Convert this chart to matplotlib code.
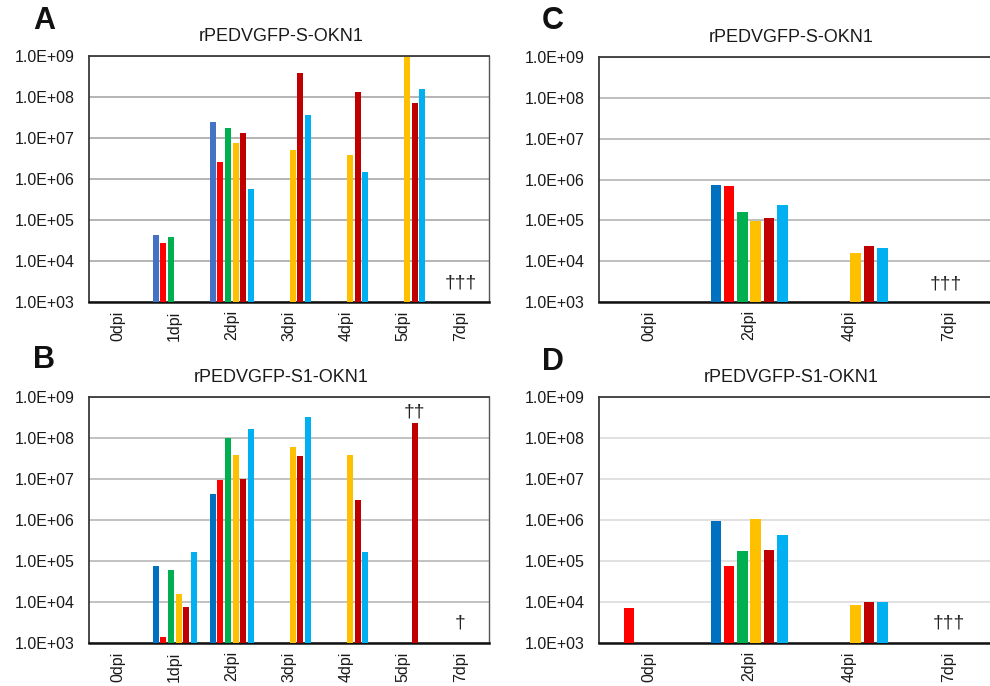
import numpy as np
import matplotlib
matplotlib.use("Agg")
import matplotlib.pyplot as plt
from matplotlib.ticker import FixedLocator, FuncFormatter, NullLocator

plt.rcParams['font.family'] = ['Liberation Sans', 'DejaVu Sans']

nan = np.nan

# categories
days_ab = ['0dpi', '1dpi', '2dpi', '3dpi', '4dpi', '5dpi', '7dpi']
days_cd = ['0dpi', '2dpi', '4dpi', '7dpi']

# six animals per panel, one value per day (nan = no bar)
a_vals = [
    [nan, 4.2e4, 2.5e7, nan, nan, nan, nan],
    [nan, 2.8e4, 2.6e6, nan, nan, nan, nan],
    [nan, 3.9e4, 1.8e7, nan, nan, nan, nan],
    [nan, nan, 7.7e6, 5.1e6, 3.8e6, 9.5e8, nan],
    [nan, nan, 1.3e7, 3.8e8, 1.35e8, 7.3e7, nan],
    [nan, nan, 5.7e5, 3.6e7, 1.45e6, 1.55e8, nan],
]
b_vals = [
    [nan, 7.7e4, 4.3e6, nan, nan, nan, nan],
    [nan, 1.4e3, 9.5e6, nan, nan, nan, nan],
    [nan, 6.2e4, 1.02e8, nan, nan, nan, nan],
    [nan, 1.6e4, 3.9e7, 6.0e7, 3.8e7, nan, nan],
    [nan, 7.4e3, 1.0e7, 3.6e7, 3.1e6, 2.3e8, nan],
    [nan, 1.66e5, 1.7e8, 3.2e8, 1.66e5, nan, nan],
]
c_vals = [
    [nan, 7.5e5, nan, nan],
    [nan, 7.1e5, nan, nan],
    [nan, 1.57e5, nan, nan],
    [nan, 9.5e4, 1.58e4, nan],
    [nan, 1.17e5, 2.3e4, nan],
    [nan, 2.4e5, 2.05e4, nan],
]
d_vals = [
    [nan, 9.4e5, nan, nan],
    [7.0e3, 7.6e4, nan, nan],
    [nan, 1.74e5, nan, nan],
    [nan, 1.08e6, 8.4e3, nan],
    [nan, 1.9e5, 1.02e4, nan],
    [nan, 4.2e5, 1.02e4, nan],
]

titles = ['rPEDVGFP-S-OKN1', 'rPEDVGFP-S1-OKN1', 'rPEDVGFP-S-OKN1', 'rPEDVGFP-S1-OKN1']
letters = ['A', 'B', 'C', 'D']

colors_a = ['#4472C4', '#FF0000', '#00B050', '#FFC000', '#C00000', '#00B0F0']
colors = ['#0070C0', '#FF0000', '#00B050', '#FFC000', '#C00000', '#00B0F0']

W, H = 990, 686
fig = plt.figure(figsize=(9.9, 6.86), dpi=100)


def px_axes(l, t, r, b):
    return fig.add_axes([l / W, 1 - b / H, (r - l) / W, (b - t) / H])


def draw_panel(ax, days, vals, cols, title, gridc):
    x = np.arange(len(days))
    step = 0.133
    for k, v in enumerate(vals):
        v = np.array(v, dtype=float)
        ax.bar(x + (k - 2.5) * step, v - 1e3, bottom=1e3, width=0.105,
               color=cols[k], zorder=3)
    ax.set_yscale('log')
    ax.set_ylim(1e3, 1e9)
    ax.set_xlim(-0.5, len(days) - 0.5)
    ax.yaxis.set_major_locator(FixedLocator([10.0 ** e for e in range(3, 10)]))
    ax.yaxis.set_minor_locator(NullLocator())
    ax.yaxis.set_major_formatter(FuncFormatter(lambda v, p: f"{v:.1E}"))
    ax.set_xticks(x)
    ax.set_xticklabels(days, rotation=90)
    ax.tick_params(axis='both', length=0, labelsize=11.5, colors='#1a1a1a')
    ax.tick_params(axis='y', pad=10)
    ax.tick_params(axis='x', pad=6)
    ax.grid(axis='y', color=gridc, linewidth=1.2, zorder=0)
    ax.set_axisbelow(True)
    ax.spines['top'].set_color('#3a3a3a')
    ax.spines['top'].set_linewidth(1.3)
    ax.spines['right'].set_color('#555555')
    ax.spines['right'].set_linewidth(1.0)
    ax.spines['left'].set_color('#2a2a2a')
    ax.spines['left'].set_linewidth(1.2)
    ax.spines['bottom'].set_color('#111111')
    ax.spines['bottom'].set_linewidth(1.8)
    ax.text(0.48, 1.045, title, transform=ax.transAxes, ha='center',
            va='bottom', fontsize=13, color='#1a1a1a')


axA = px_axes(89, 56, 489, 302)
axB = px_axes(89, 397, 489, 643)
axC = px_axes(599, 57, 999, 302)
axD = px_axes(599, 397, 999, 643)

draw_panel(axA, days_ab, a_vals, colors_a, titles[0], '#a8a8a8')
draw_panel(axB, days_ab, b_vals, colors, titles[1], '#b8b8b8')
draw_panel(axC, days_cd, c_vals, colors, titles[2], '#b4b4b4')
draw_panel(axD, days_cd, d_vals, colors, titles[3], '#dcdcdc')

# daggers (deaths)
dag = dict(ha='center', va='center', fontsize=14, color='#222222', zorder=4)
axA.text(6, 2.9e3, '†††', **dag)
axB.text(5.2, 4.4e8, '††', **dag)
axB.text(6, 3.1e3, '†', **dag)
axC.text(2.97, 2.8e3, '†††', **dag)
axD.text(3, 3.1e3, '†††', **dag)

# panel letters
for lab, (fx, fy) in zip(letters, [(44, 21), (44, 360), (553, 21), (553, 362)]):
    fig.text(fx / W, 1 - fy / H, lab, ha='center', va='center',
             fontsize=22, fontweight='bold', color='#111111')

fig.savefig('out.png', dpi=100)
